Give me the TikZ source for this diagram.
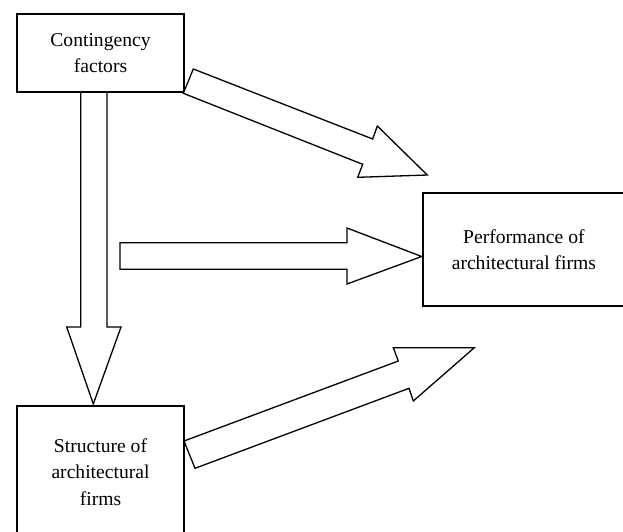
\documentclass[tikz,border=0pt]{standalone}
\usepackage{fontspec}
\setmainfont{Liberation Serif}
\begin{document}
\begin{tikzpicture}[x=1pt,y=-1pt,
  box/.style={draw=black, line width=1.6pt, fill=white, align=center, inner sep=0pt,
    font=\fontsize{19.6}{26.5}\selectfont},
  blockarrow/.style={draw=black, line width=1.3pt, fill=white, line join=miter}]
\useasboundingbox (0,0) rectangle (623,531);
\clip (0,0) rectangle (623,531);
% boxes
\node[box, minimum width=167pt, minimum height=78pt] (cf) at (100.5,53) {Contingency\\factors};
\node[box, minimum width=202pt, minimum height=113pt] (pf) at (523.9,249.7) {Performance of\\architectural firms};
\node[box, minimum width=167pt, minimum height=132pt] (sf) at (100.5,471.7) {Structure of\\architectural\\firms};
% down arrow
\draw[blockarrow] (80.7,93) -- (80.7,327) -- (66.7,327) -- (93.3,404) -- (121,327) -- (107,327) -- (107,93);
% horizontal arrow
\draw[blockarrow] (120,242.7) -- (347,242.7) -- (347,228) -- (421.7,256.5) -- (347,284) -- (347,269.3) -- (120,269.3) -- cycle;
% top diagonal arrow
\draw[blockarrow] (183.3,93.3) -- (193.3,69) -- (372.7,139) -- (377.3,126) -- (427.3,175) -- (357.7,177.3) -- (362.7,164.3) -- cycle;
% bottom diagonal arrow
\draw[blockarrow] (184,441) -- (398.3,361) -- (393.3,347.7) -- (474.3,347.7) -- (413.3,401) -- (409,388.3) -- (195,468.3) -- cycle;
\end{tikzpicture}
\end{document}
